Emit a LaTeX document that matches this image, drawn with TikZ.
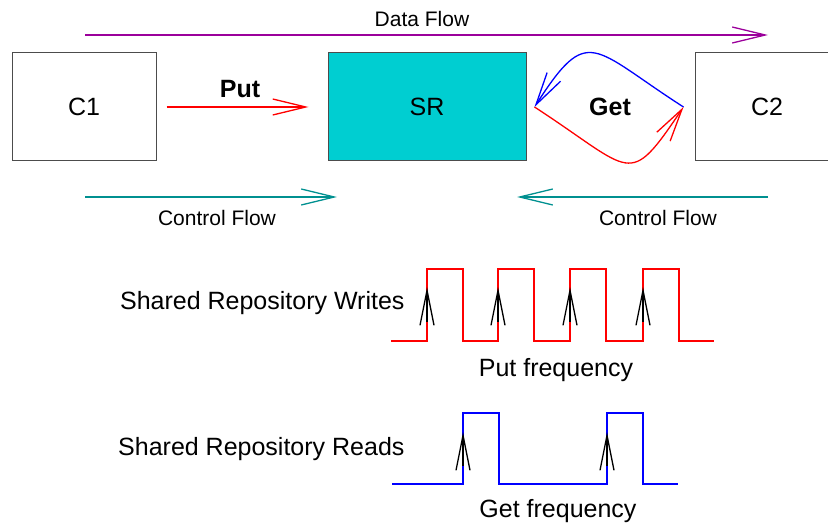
\documentclass[tikz,border=0pt]{standalone}
\usepackage{fontspec}
\setmainfont{Liberation Sans}
\usetikzlibrary{arrows.meta}

\definecolor{srcyan}{RGB}{0,206,209}
\definecolor{datapurple}{RGB}{155,0,155}
\definecolor{ctrlteal}{RGB}{0,144,144}

\tikzset{
  lbl/.style={font=\fontsize{25}{30}\selectfont},
  small/.style={font=\fontsize{21}{25}\selectfont},
  box/.style={draw=black!70, line width=1pt, minimum width=144pt,
    minimum height=108pt, inner sep=0pt, lbl},
  flow/.style={line width=1.3pt, -{Straight Barb[length=33pt,width=16pt]}},
  tick/.style={line width=1.3pt, -{Straight Barb[length=35pt,width=14pt]}},
  wave/.style={line width=1.2pt},
}

\begin{document}
\begin{tikzpicture}[x=1pt,y=-1pt]
  \useasboundingbox (0,0) rectangle (828,526);

  % the three blocks
  \node[box] (c1) at (84,107) {C1};
  \node[box, fill=srcyan, minimum width=198pt] (sr) at (427,107) {SR};
  \node[box] (c2) at (767,107) {C2};

  % data flow on top
  \coordinate (dataS) at (85,35);
  \coordinate (dataE) at (768,35);
  \draw[flow, datapurple] (dataS) -- (dataE);
  \node[small] (datalbl) at (422,19) {Data Flow};

  % put: C1 into SR
  \draw[flow, red, shorten <=10pt, shorten >=19pt] (c1) -- (sr);
  \node[lbl, font=\fontsize{25}{30}\selectfont\bfseries] (putlbl) at (240,89) {Put};

  % get: loop between SR and C2
  \coordinate (getL) at ([xshift=8pt]sr.east);
  \coordinate (getR) at ([xshift=-11pt]c2.west);
  \draw[flow, blue] (getR) .. controls +(-92,-59) and +(54,-84) .. (getL);
  \draw[flow, red] (getL) .. controls +(100,65) and +(-56,83) .. (getR);
  \node[lbl, font=\fontsize{25}{30}\selectfont\bfseries] (getlbl) at (610,107) {Get};

  % control flow underneath
  \coordinate (ctrlA) at (85,197);
  \coordinate (ctrlB) at (337,197);
  \coordinate (ctrlC) at (768,197);
  \coordinate (ctrlD) at (517,197);
  \draw[flow, ctrlteal] (ctrlA) -- (ctrlB);
  \draw[flow, ctrlteal] (ctrlC) -- (ctrlD);
  \node[small] (ctrl1) at (217,218) {Control Flow};
  \node[small] (ctrl2) at (658,218) {Control Flow};

  % writes
  \node[lbl, anchor=east] (writes) at (408,303) {Shared Repository Writes};
  \draw[wave, red] (391,341)
    \foreach \x in {427,498,570,643} { -- (\x,341) -- (\x,269) -- (\x+36,269) -- (\x+36,341) }
    -- (714,341);
  \foreach \x in {427,498,570,643}
    \draw[tick] (\x,322) -- (\x,287);
  \node[lbl] (putf) at (556,370) {Put frequency};

  % reads
  \node[lbl, anchor=east] (reads) at (408,449) {Shared Repository Reads};
  \draw[wave, blue] (392,484)
    \foreach \x in {463,607} { -- (\x,484) -- (\x,413) -- (\x+36,413) -- (\x+36,484) }
    -- (678,484);
  \foreach \x in {463,607}
    \draw[tick] (\x,466) -- (\x,432);
  \node[lbl] (getf) at (558,511) {Get frequency};
\end{tikzpicture}
\end{document}
